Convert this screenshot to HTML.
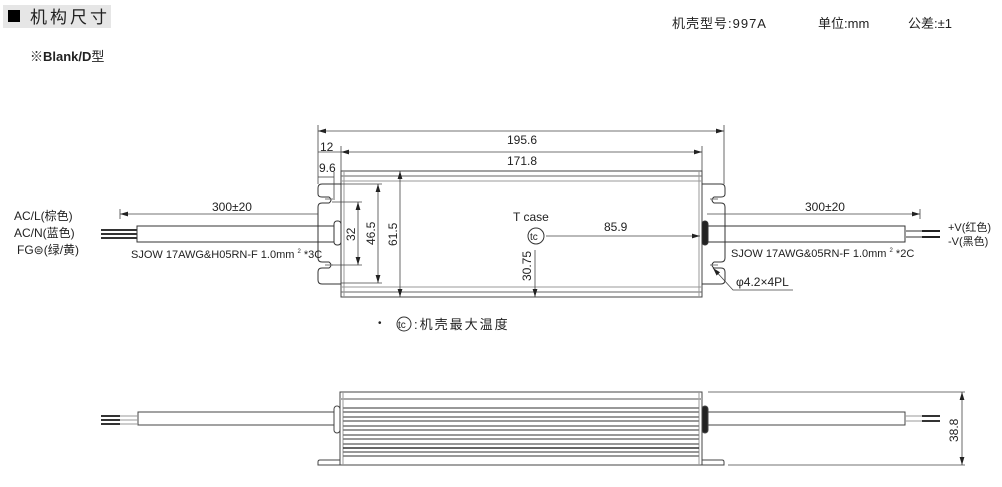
<!DOCTYPE html>
<html><head><meta charset="utf-8"><style>
body{margin:0;background:#fff;width:1002px;height:487px;overflow:hidden}
svg{display:block}
text{font-family:"Liberation Sans","Noto Sans CJK SC",sans-serif;fill:#222}
</style></head><body>
<svg width="1002" height="487" viewBox="0 0 1002 487" xmlns="http://www.w3.org/2000/svg">
<defs>
<marker id="a" viewBox="0 0 10 6" refX="10" refY="3" markerWidth="8" markerHeight="5" orient="auto-start-reverse" markerUnits="userSpaceOnUse"><path d="M0,0L10,3L0,6z" fill="#222"/></marker>
</defs>
<rect x="3" y="5" width="108" height="23" fill="#e6e6e6"/>
<rect x="8" y="10" width="12" height="12" fill="#000"/>
<text x="30" y="23" font-size="17" letter-spacing="3">机构尺寸</text>
<text x="30" y="61" font-size="13" font-weight="bold">※Blank/D<tspan font-weight="normal">型</tspan></text>
<text x="672" y="28" font-size="13" letter-spacing="1">机壳型号:997A</text>
<text x="818" y="28" font-size="13">单位:mm</text>
<text x="908" y="28" font-size="13">公差:±1</text>

<g stroke="#333" stroke-width="1" fill="none">
<rect x="341" y="171" width="361" height="126" stroke="#444"/>
<line x1="341" y1="176" x2="702" y2="176" stroke="#666"/>
<line x1="341" y1="181" x2="702" y2="181" stroke="#999"/>
<line x1="341" y1="287" x2="702" y2="287" stroke="#999"/>
<line x1="341" y1="292" x2="702" y2="292" stroke="#666"/>
<line x1="344" y1="171" x2="344" y2="297" stroke="#999"/>
<line x1="699" y1="171" x2="699" y2="297" stroke="#999"/>
<path d="M341,184 H322 Q318,184 318,188 V194 Q318,197 322,197 H329 Q333,200 329,203 H322 Q318,203 318,207 V258 Q318,262 322,262 H329 Q333,265 329,268 H322 Q318,268 318,272 V280 Q318,284 322,284 H341"/>
<path d="M333,199 H325 M333,265 H325" stroke="#777"/>
<path d="M702,184 H721 Q725,184 725,188 V194 Q725,197 721,197 H714 Q710,200 714,203 H721 Q725,203 725,207 V258 Q725,262 721,262 H714 Q710,265 714,268 H721 Q725,268 725,272 V280 Q725,284 721,284 H702"/>
<path d="M710,199 H718 M710,265 H718" stroke="#777"/>
<rect x="334" y="221" width="7" height="24" rx="3"/>
<rect x="702" y="221" width="6" height="24" rx="3" fill="#222"/>
<path d="M334,226 H137 V242 H334"/>
<path d="M708,226 H905 V242 H708"/>
</g>
<g stroke-width="2">
<line x1="101" y1="230" x2="137" y2="230" stroke="#333"/>
<line x1="101" y1="234" x2="137" y2="234" stroke="#333"/>
<line x1="101" y1="238" x2="137" y2="238" stroke="#333"/>
<line x1="905" y1="231" x2="940" y2="231" stroke="#999"/>
<line x1="905" y1="237" x2="940" y2="237" stroke="#999"/>
<line x1="922" y1="231" x2="940" y2="231" stroke="#222"/>
<line x1="922" y1="237" x2="940" y2="237" stroke="#222"/>
</g>
<g stroke="#444" stroke-width="0.8" fill="none">
<line x1="318" y1="125" x2="318" y2="184"/>
<line x1="724" y1="125" x2="724" y2="184"/>
<line x1="318" y1="131" x2="724" y2="131" marker-start="url(#a)" marker-end="url(#a)"/>
<line x1="341" y1="146" x2="341" y2="171"/>
<line x1="702" y1="146" x2="702" y2="171"/>
<line x1="341" y1="152" x2="702" y2="152" marker-start="url(#a)" marker-end="url(#a)"/>
<line x1="318" y1="152" x2="341" y2="152"/>
<line x1="318" y1="177" x2="334" y2="177"/>
<line x1="334" y1="172" x2="334" y2="200"/>
<line x1="400" y1="171" x2="400" y2="297" marker-start="url(#a)" marker-end="url(#a)"/>
<line x1="341" y1="184" x2="382" y2="184"/>
<line x1="341" y1="283" x2="382" y2="283"/>
<line x1="378" y1="184" x2="378" y2="283" marker-start="url(#a)" marker-end="url(#a)"/>
<line x1="332" y1="202" x2="362" y2="202"/>
<line x1="332" y1="265" x2="362" y2="265"/>
<line x1="358" y1="202" x2="358" y2="265" marker-start="url(#a)" marker-end="url(#a)"/>
<line x1="546" y1="236" x2="700" y2="236" marker-end="url(#a)"/>
<line x1="535" y1="250" x2="535" y2="297" marker-end="url(#a)"/>
<line x1="120" y1="214" x2="318" y2="214" marker-start="url(#a)"/>
<line x1="120" y1="209" x2="120" y2="219"/>
<line x1="707" y1="214" x2="920" y2="214" marker-end="url(#a)"/>
<line x1="920" y1="209" x2="920" y2="219"/>
<path d="M793,290 H733 L713,268" marker-end="url(#a)"/>
</g>
<circle cx="536" cy="236" r="8" fill="#fff" stroke="#333"/>
<text x="530" y="240" font-size="10">tc</text>
<text x="513" y="221" font-size="12">T case</text>
<text x="604" y="231" font-size="12">85.9</text>
<text x="507" y="144" font-size="12">195.6</text>
<text x="507" y="149" font-size="12" dy="16">171.8</text>
<text x="320" y="151" font-size="12">12</text>
<text x="319" y="172" font-size="12">9.6</text>
<text font-size="12" transform="translate(397,246) rotate(-90)">61.5</text>
<text font-size="12" transform="translate(375,245) rotate(-90)">46.5</text>
<text font-size="12" transform="translate(355,241) rotate(-90)">32</text>
<text font-size="12" transform="translate(531,281) rotate(-90)">30.75</text>
<text x="212" y="211" font-size="12">300±20</text>
<text x="805" y="211" font-size="12">300±20</text>
<text x="131" y="258" font-size="11">SJOW 17AWG&amp;H05RN-F 1.0mm <tspan font-size="6" dy="-5">2</tspan><tspan dy="5"> *3C</tspan></text>
<text x="731" y="257" font-size="11">SJOW 17AWG&amp;05RN-F 1.0mm <tspan font-size="6" dy="-5">2</tspan><tspan dy="5"> *2C</tspan></text>
<text x="736" y="286" font-size="12">φ4.2×4PL</text>
<text x="14" y="220" font-size="12">AC/L(棕色)</text>
<text x="14" y="237" font-size="12">AC/N(蓝色)</text>
<text x="17" y="254" font-size="12">FG⊜(绿/黄)</text>
<text x="948" y="231" font-size="11">+V(红色)</text>
<text x="948" y="245" font-size="11">-V(黑色)</text>
<text x="378" y="326" font-size="10">•</text>
<circle cx="404" cy="324" r="7" fill="none" stroke="#333"/>
<text x="398" y="328" font-size="10">tc</text>
<text x="414" y="329" font-size="13" letter-spacing="2">:机壳最大温度</text>

<g stroke="#444" fill="none" stroke-width="1">
<rect x="340" y="392" width="362" height="73"/>
<line x1="343" y1="392" x2="343" y2="465" stroke="#999"/>
<line x1="699" y1="392" x2="699" y2="465" stroke="#999"/>
<line x1="340" y1="399" x2="702" y2="399" stroke="#aaa" stroke-width="2"/>
<path d="M340,460 H320 Q318,460 318,462 V465 H340 M702,460 H722 Q724,460 724,462 V465 H702"/>
<rect x="334" y="406" width="6" height="27" rx="3"/>
<rect x="702" y="406" width="6" height="27" rx="3" fill="#222"/>
<path d="M334,412 H138 V425 H334"/>
<path d="M708,412 H905 V425 H708"/>
<line x1="708" y1="392" x2="965" y2="392" stroke-width="0.8"/>
<line x1="728" y1="465" x2="965" y2="465" stroke-width="0.8"/>
<line x1="962" y1="392" x2="962" y2="465" stroke-width="0.8" marker-start="url(#a)" marker-end="url(#a)"/>
</g>
<g stroke="#777" stroke-width="1.5">
<line x1="343" y1="408" x2="699" y2="408"/>
<line x1="343" y1="412" x2="699" y2="412"/>
<line x1="343" y1="417" x2="699" y2="417"/>
<line x1="343" y1="421" x2="699" y2="421"/>
<line x1="343" y1="426" x2="699" y2="426"/>
<line x1="343" y1="430" x2="699" y2="430"/>
<line x1="343" y1="435" x2="699" y2="435"/>
<line x1="343" y1="439" x2="699" y2="439"/>
<line x1="343" y1="444" x2="699" y2="444"/>
<line x1="343" y1="448" x2="699" y2="448" stroke="#333"/>
<line x1="343" y1="452" x2="699" y2="452"/>
<line x1="343" y1="456" x2="699" y2="456"/>
</g>
<g stroke="#333" stroke-width="2">
<line x1="101" y1="416" x2="120" y2="416"/>
<line x1="101" y1="420" x2="120" y2="420"/>
<line x1="101" y1="424" x2="120" y2="424"/>
<line x1="922" y1="416" x2="940" y2="416"/>
<line x1="922" y1="421" x2="940" y2="421"/>
</g>
<g stroke="#999" stroke-width="1"><line x1="120" y1="416" x2="138" y2="416"/><line x1="120" y1="420" x2="138" y2="420"/><line x1="120" y1="424" x2="138" y2="424"/><line x1="905" y1="416" x2="922" y2="416"/><line x1="905" y1="421" x2="922" y2="421"/></g>
<text font-size="12" transform="translate(958,442) rotate(-90)">38.8</text>
</svg>
</body></html>
